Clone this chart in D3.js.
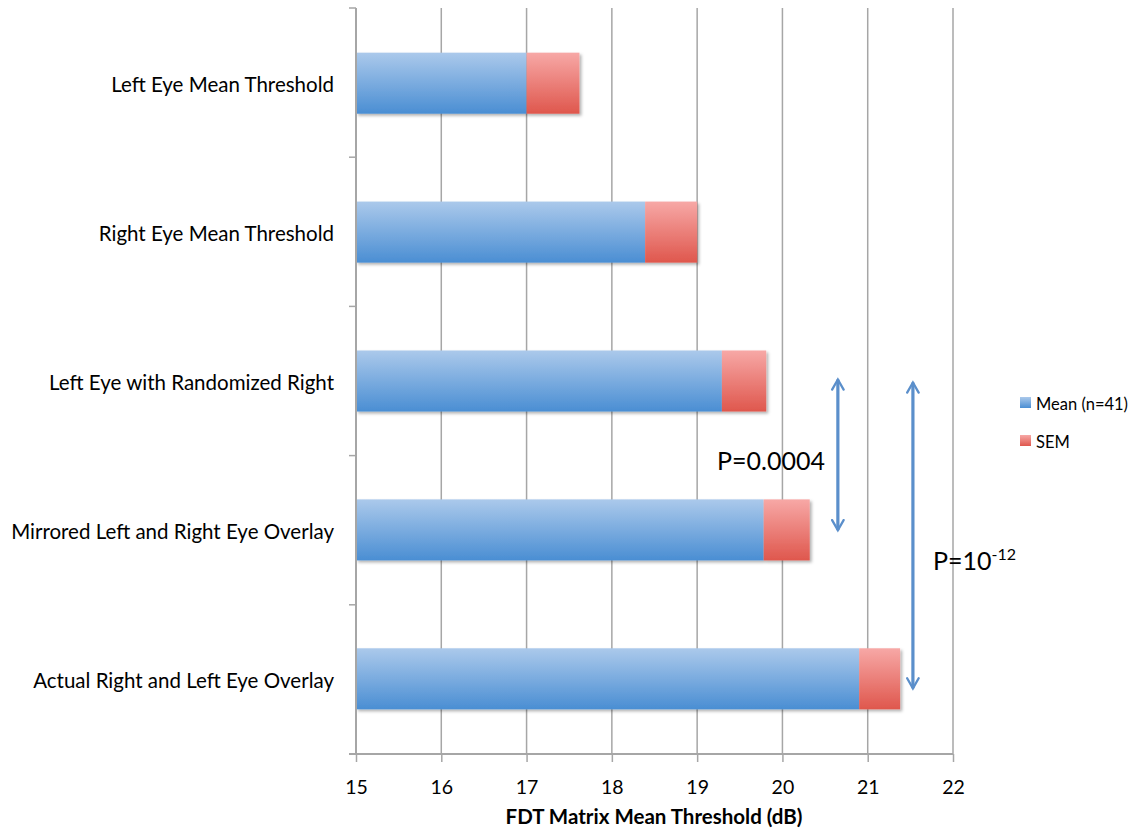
<!DOCTYPE html>
<html><head><meta charset="utf-8">
<script src="https://cdn.jsdelivr.net/npm/d3@7/dist/d3.min.js"></script>
<style>html,body{margin:0;padding:0;background:#fff;overflow:hidden;} svg{display:block;} text{font-family:Lato,"Open Sans",sans-serif;}</style>
</head><body><svg id="c" width="1131" height="831"></svg>
<script>
const categories = ["Left Eye Mean Threshold","Right Eye Mean Threshold","Left Eye with Randomized Right","Mirrored Left and Right Eye Overlay","Actual Right and Left Eye Overlay"];
const means = [17.0, 18.39, 19.29, 19.78, 20.90];
const sems = [0.62, 0.61, 0.52, 0.54, 0.48];
const xTicks = [15,16,17,18,19,20,21,22];
const seriesNames = ["Mean (n=41)","SEM"];
const xTitle = "FDT Matrix Mean Threshold (dB)";
// annotations: x value, from category, to category, fractional offsets inside band
const arrows = [
  {x:20.65, from:2, fromOff:0.49, to:3, toOff:0.5},
  {x:21.53, from:2, fromOff:0.51, to:4, toOff:0.56}
];
const svg = d3.select("#c");
const L=356, R=953, T=8, B=754;
const FF = "Lato,'Open Sans',sans-serif";
const x = d3.scaleLinear().domain([15,22]).range([L,R]);
const y = d3.scaleBand().domain(categories).range([T,B]).paddingInner(0.59).paddingOuter(0.3);
const band = d3.scaleBand().domain(categories).range([T,B]);
const defs = svg.append("defs");
const gb = defs.append("linearGradient").attr("id","gb").attr("x1",0).attr("x2",0).attr("y1",0).attr("y2",1);
gb.append("stop").attr("offset","0%").attr("stop-color","#abc9eb");
gb.append("stop").attr("offset","100%").attr("stop-color","#4a8ed3");
const gr = defs.append("linearGradient").attr("id","gr").attr("x1",0).attr("x2",0).attr("y1",0).attr("y2",1);
gr.append("stop").attr("offset","0%").attr("stop-color","#f7a8a6");
gr.append("stop").attr("offset","100%").attr("stop-color","#df574d");
const f = defs.append("filter").attr("id","sh").attr("x","-5%").attr("y","-10%").attr("width","115%").attr("height","130%");
f.append("feDropShadow").attr("dx",2).attr("dy",2).attr("stdDeviation",1.5).attr("flood-color","#000").attr("flood-opacity",0.3);
const mk = defs.append("marker").attr("id","ah").attr("viewBox","0 0 10 10").attr("refX",8).attr("refY",5)
  .attr("markerWidth",4.5).attr("markerHeight",4.5).attr("orient","auto-start-reverse").attr("markerUnits","strokeWidth");
mk.append("path").attr("d","M1,1 L8,5 L1,9").attr("fill","none").attr("stroke","#5b8fcb").attr("stroke-width",1.6).attr("stroke-linecap","round");

// gridlines
svg.append("g").selectAll("line").data(xTicks.slice(1)).join("line")
  .attr("x1",d=>x(d)).attr("x2",d=>x(d)).attr("y1",T).attr("y2",B)
  .attr("stroke","#a6a6a6").attr("stroke-width",1.5);
// bars
const g = svg.append("g").attr("filter","url(#sh)");
g.selectAll("rect.m").data(categories).join("rect").attr("class","m")
  .attr("x",x(15)).attr("y",d=>y(d)).attr("height",y.bandwidth())
  .attr("width",(d,i)=>x(means[i])-x(15)).attr("fill","url(#gb)");
g.selectAll("rect.s").data(categories).join("rect").attr("class","s")
  .attr("x",(d,i)=>x(means[i])).attr("y",d=>y(d)).attr("height",y.bandwidth())
  .attr("width",(d,i)=>x(means[i]+sems[i])-x(means[i])).attr("fill","url(#gr)");
// x axis
const xa = svg.append("g").attr("transform",`translate(0,${B})`)
  .call(d3.axisBottom(x).tickValues(xTicks).tickFormat(d3.format("d")).tickSize(8).tickPadding(18).tickSizeOuter(0));
xa.select(".domain").attr("stroke","#a6a6a6").attr("stroke-width",2).attr("d",`M${L-7},0H${R}`);
xa.selectAll(".tick line").attr("stroke","#a6a6a6").attr("stroke-width",1.5);
xa.selectAll(".tick text").attr("font-size",19.5).attr("fill","#000").style("font-family",FF);
// y axis
const ya = svg.append("g").attr("transform",`translate(${L},0)`)
  .call(d3.axisLeft(y).tickSize(0).tickPadding(22));
ya.select(".domain").attr("stroke","#a6a6a6").attr("stroke-width",2).attr("d",`M0,${T}V${B}`);
ya.selectAll(".tick text").attr("font-size",20.5).attr("fill","#000").attr("dy","0.45em").style("font-family",FF);
const bounds = categories.map(c=>band(c)).concat([B]);
svg.append("g").selectAll("line").data(bounds).join("line")
  .attr("x1",L-7).attr("x2",L).attr("y1",d=>d).attr("y2",d=>d)
  .attr("stroke","#a6a6a6").attr("stroke-width",1.5);
// x title
svg.append("text").attr("x",654).attr("y",824).attr("text-anchor","middle")
  .attr("font-size",20.5).attr("font-weight","bold").text(xTitle);
// legend
const lg = svg.append("g");
[["url(#gb)",seriesNames[0],403],["url(#gr)",seriesNames[1],441]].forEach(([c,t,yy])=>{
  lg.append("rect").attr("x",1020).attr("y",yy-6).attr("width",11).attr("height",11).attr("fill",c);
  lg.append("text").attr("x",1036).attr("y",yy+7).attr("font-size",16.5).text(t);
});
// arrows
svg.append("g").selectAll("line").data(arrows).join("line")
  .attr("x1",d=>x(d.x)).attr("x2",d=>x(d.x))
  .attr("y1",d=>band(categories[d.from])+d.fromOff*band.bandwidth())
  .attr("y2",d=>band(categories[d.to])+d.toOff*band.bandwidth())
  .attr("stroke","#5b8fcb").attr("stroke-width",3.2)
  .attr("marker-start","url(#ah)").attr("marker-end","url(#ah)");
svg.append("text").attr("x",717).attr("y",470).attr("font-size",25).text("P=0.0004");
const t2 = svg.append("text").attr("x",933).attr("y",570).attr("font-size",25);
t2.append("tspan").text("P=10");
t2.append("tspan").attr("font-size",16).attr("dy",-10).text("-12");
</script></body></html>
